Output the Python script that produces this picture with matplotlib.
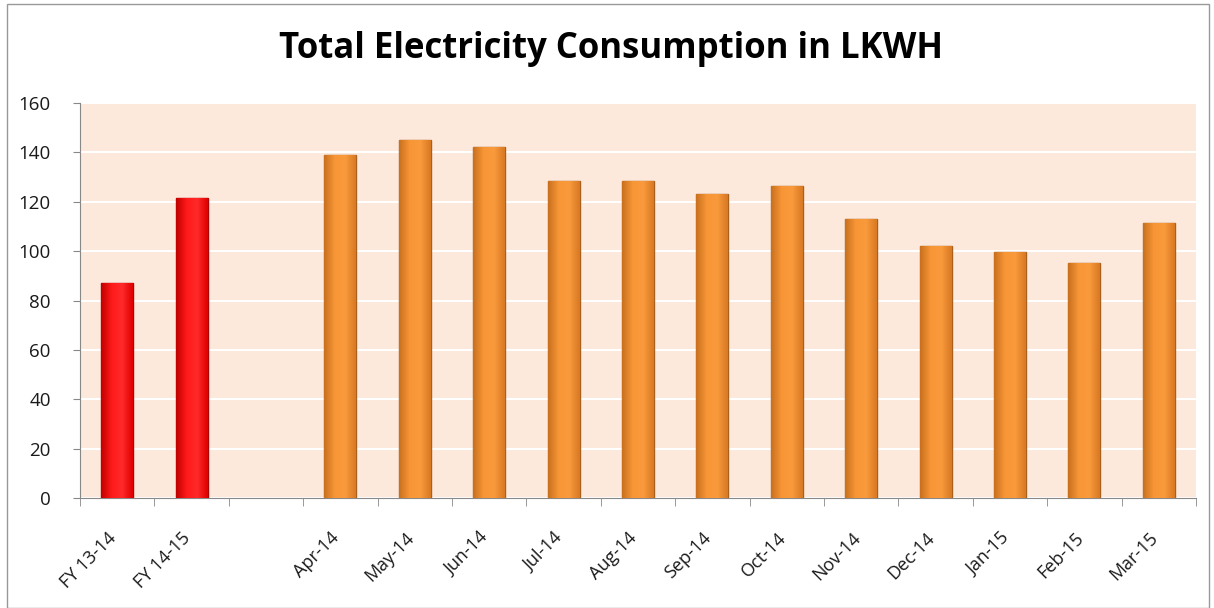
import matplotlib.pyplot as plt
import matplotlib.transforms as mtransforms
from matplotlib.colors import LinearSegmentedColormap
import numpy as np

# categories and values (blank slot between the FY bars and months)
categories = ['FY 13-14', 'FY 14-15', '', 'Apr-14', 'May-14', 'Jun-14', 'Jul-14', 'Aug-14',
              'Sep-14', 'Oct-14', 'Nov-14', 'Dec-14', 'Jan-15', 'Feb-15', 'Mar-15']
consumption = [87, 121.5, 0, 139, 145, 142, 128.5, 128.5, 123, 126.5, 113, 102, 99.5, 95, 111.5]
bar_colors = ['#ff0a0a', '#ff0a0a', 'none'] + ['#f7922e'] * 12
edge_colors = ['#b00000', '#b00000', 'none'] + ['#a9601c'] * 12
yticks = [0, 20, 40, 60, 80, 100, 120, 140, 160]

red_cmap = LinearSegmentedColormap.from_list('r', ['#c00000', '#ff1a1a', '#ff2a2a', '#e00000'])
orange_cmap = LinearSegmentedColormap.from_list('o', ['#c8701f', '#f89636', '#f99a3c', '#d97a24'])

plt.rcParams['font.family'] = ['Open Sans', 'DejaVu Sans']

fig = plt.figure(figsize=(12.14, 6.08), dpi=100)
ax = fig.add_axes([80 / 1214, 1 - 498 / 608, 1116 / 1214, 395 / 608])

x = np.arange(len(categories))
bars = ax.bar(x, consumption, width=0.43, color=bar_colors, edgecolor=edge_colors,
              linewidth=1, zorder=3)

# horizontal shading on each bar
grad = np.linspace(0, 1, 64).reshape(1, -1)
for b, c in zip(bars, bar_colors):
    if c == 'none':
        continue
    cmap = red_cmap if c == '#ff0a0a' else orange_cmap
    x0, y0 = b.get_x(), b.get_y()
    im = ax.imshow(grad, cmap=cmap, aspect='auto', zorder=3.5,
                   extent=[x0, x0 + b.get_width(), y0, y0 + b.get_height()])
    im.set_clip_path(b)

ax.set_facecolor('#fce9db')
ax.set_xlim(-0.5, len(categories) - 0.5)
ax.set_ylim(0, 160)
ax.set_yticks(yticks)
ax.yaxis.grid(True, color='white', linewidth=1.5, zorder=1)
ax.tick_params(axis='y', labelsize=13.5, length=5, color='#888888', pad=16, labelcolor='#1a1a1a')

ax.set_xticks(x)
ax.set_xticklabels(categories, rotation=45, ha='right', rotation_mode='anchor', fontsize=13,
                   color='#1a1a1a')
ax.tick_params(axis='x', which='major', length=0, pad=22)
ax.set_xticks(np.arange(-0.5, len(categories)), minor=True)
ax.tick_params(axis='x', which='minor', length=6, color='#888888')
shift = mtransforms.ScaledTranslation(-10 / 100, 0, fig.dpi_scale_trans)
for lbl in ax.get_xticklabels():
    lbl.set_transform(lbl.get_transform() + shift)

for side in ['top', 'right']:
    ax.spines[side].set_visible(False)
for side in ['left', 'bottom']:
    ax.spines[side].set_color('#888888')

fig.text(0.503, 1 - 49 / 608, 'Total Electricity Consumption in LKWH', ha='center', va='center',
         fontsize=25, fontweight='bold')

# outer chart border
fig.add_artist(plt.Rectangle((7 / 1214, 0), 1 - 12 / 1214, 1 - 4 / 608, transform=fig.transFigure,
                             fill=False, edgecolor='#999999', linewidth=1))

fig.savefig('out.png', dpi=100, facecolor='white')
